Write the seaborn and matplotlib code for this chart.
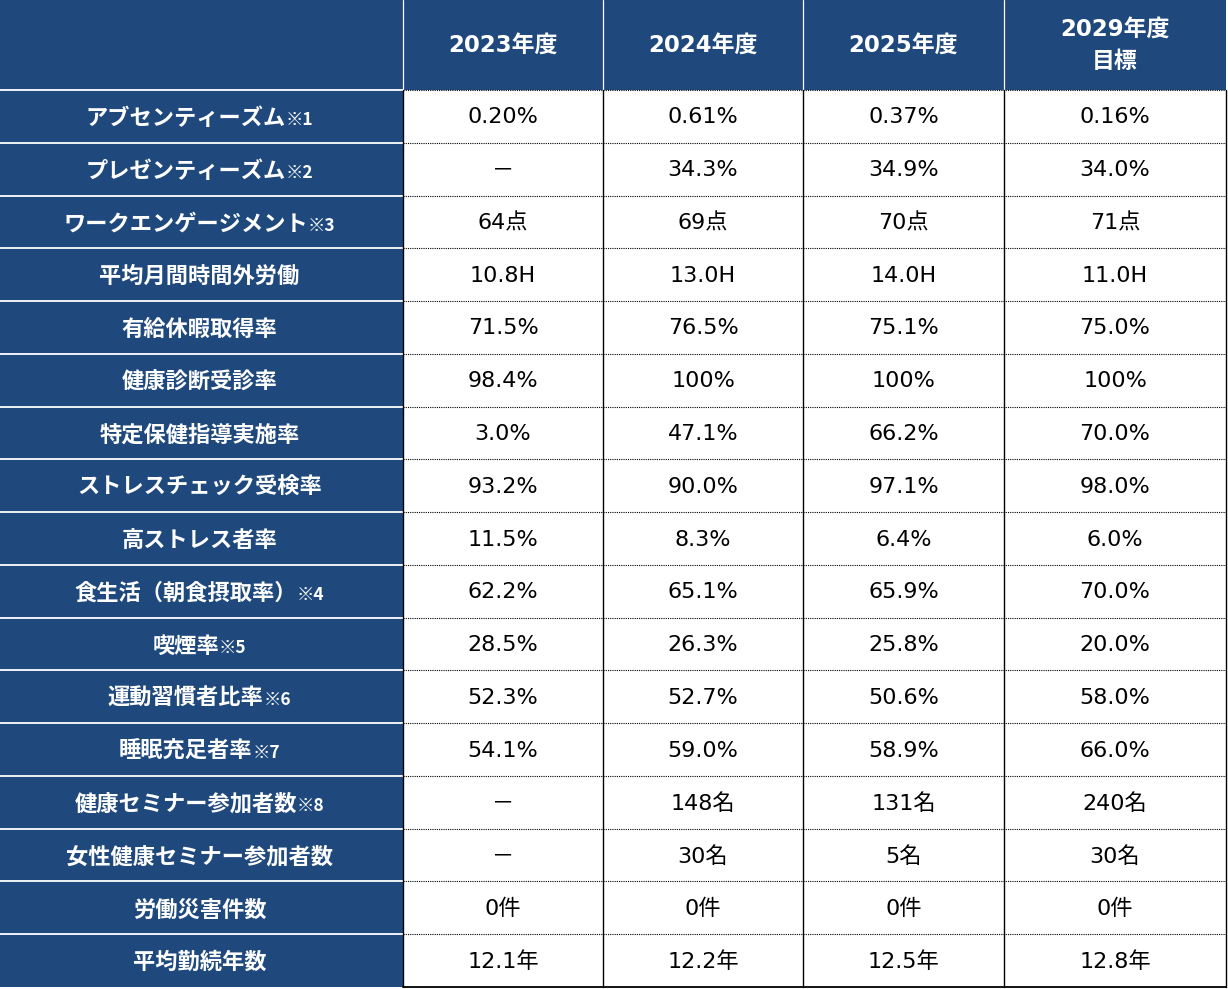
"""
健康経営指標テーブル
年度ごとの健康関連KPIと2029年度目標を表形式で描画する
"""
import numpy as np
import seaborn as sns
import matplotlib
matplotlib.use('Agg')
import matplotlib.pyplot as plt
from matplotlib.colors import ListedColormap
from matplotlib.offsetbox import TextArea, HPacker, AnnotationBbox

# ==================== データ ====================
row_labels = [
    'アブセンティーズム', 'プレゼンティーズム', 'ワークエンゲージメント',
    '平均月間時間外労働', '有給休暇取得率', '健康診断受診率',
    '特定保健指導実施率', 'ストレスチェック受検率', '高ストレス者率',
    '食生活（朝食摂取率）', '喫煙率', '運動習慣者比率', '睡眠充足者率',
    '健康セミナー参加者数', '女性健康セミナー参加者数', '労働災害件数',
    '平均勤続年数',
]
row_notes = ['※1', '※2', '※3', '', '', '', '', '', '', '※4', '※5', '※6',
             '※7', '※8', '', '', '']
col_headers = ['2023年度', '2024年度', '2025年度', '2029年度\n目標']

fy2023 = ['0.20%', '－', '64点', '10.8H', '71.5%', '98.4%', '3.0%', '93.2%',
          '11.5%', '62.2%', '28.5%', '52.3%', '54.1%', '－', '－', '0件', '12.1年']
fy2024 = ['0.61%', '34.3%', '69点', '13.0H', '76.5%', '100%', '47.1%', '90.0%',
          '8.3%', '65.1%', '26.3%', '52.7%', '59.0%', '148名', '30名', '0件', '12.2年']
fy2025 = ['0.37%', '34.9%', '70点', '14.0H', '75.1%', '100%', '66.2%', '97.1%',
          '6.4%', '65.9%', '25.8%', '50.6%', '58.9%', '131名', '5名', '0件', '12.5年']
fy2029_target = ['0.16%', '34.0%', '71点', '11.0H', '75.0%', '100%', '70.0%', '98.0%',
                 '6.0%', '70.0%', '20.0%', '58.0%', '66.0%', '240名', '30名', '0件', '12.8年']

# ==================== レイアウト ====================
NAVY = '#1F497D'
W, H = 1228, 989
col_edges = np.array([0, 403, 603, 803, 1004, 1226])
header_h = 90
n_rows = len(row_labels)
row_edges = np.concatenate([[0], np.linspace(header_h, 987, n_rows + 1)])

sns.set_theme(style='white')
JP_FONT = ['Noto Sans CJK JP', 'DejaVu Sans']
NUM_FONT = ['DejaVu Sans', 'Noto Sans CJK JP']
plt.rcParams['font.family'] = JP_FONT

fig = plt.figure(figsize=(W / 100, H / 100), dpi=100)
ax = fig.add_axes([0, 0, 1, 1])
ax.set_xlim(0, W)
ax.set_ylim(H, 0)
ax.axis('off')

# セル背景: 見出し行と項目列は紺、数値セルは白
cell_kind = np.zeros((n_rows + 1, len(col_edges) - 1))
cell_kind[0, :] = 1
cell_kind[:, 0] = 1
ax.pcolormesh(col_edges, row_edges, cell_kind,
              cmap=ListedColormap(['white', NAVY]), vmin=0, vmax=1)

# 罫線
for x in col_edges[1:-1]:
    ax.plot([x, x], [0, header_h], color='white', lw=0.9)
for y in row_edges[1:-1]:
    ax.plot([0, col_edges[1]], [y, y], color='white', lw=1.3)
    ax.plot([col_edges[1], col_edges[-1]], [y, y], color='black', lw=0.8,
            linestyle=(0, (1, 1)))
ax.plot([col_edges[1], col_edges[-1]], [row_edges[-1], row_edges[-1]],
        color='black', lw=1.3)
for x in col_edges[1:]:
    ax.plot([x, x], [header_h, row_edges[-1]], color='black', lw=1.0)

col_cx = (col_edges[:-1] + col_edges[1:]) / 2
row_cy = (row_edges[:-1] + row_edges[1:]) / 2

# 見出し
for cx, txt in zip(col_cx[1:], col_headers):
    ax.text(cx, header_h / 2, txt, ha='center', va='center', color='white',
            fontsize=16.5, fontweight='bold', family=NUM_FONT, linespacing=1.5)

# 項目名（注記は小さめ）
for cy, label, note in zip(row_cy[1:], row_labels, row_notes):
    parts = [TextArea(label, textprops=dict(color='white', fontsize=16,
                                            fontweight='bold', family=JP_FONT))]
    if note:
        parts.append(TextArea(note, textprops=dict(color='white', fontsize=12.5,
                                                   fontweight='bold', family=JP_FONT)))
    box = HPacker(children=parts, align='baseline', pad=0, sep=0)
    ax.add_artist(AnnotationBbox(box, (col_cx[0] - 2, cy + 2), frameon=False,
                                 box_alignment=(0.5, 0.5), pad=0))

# 数値
for cx, values in zip(col_cx[1:], [fy2023, fy2024, fy2025, fy2029_target]):
    for cy, v in zip(row_cy[1:], values):
        ax.text(cx, cy + 1, v, ha='center', va='center', color='black',
                fontsize=16, family=NUM_FONT)

fig.savefig('out.png', dpi=100)
plt.close('all')
